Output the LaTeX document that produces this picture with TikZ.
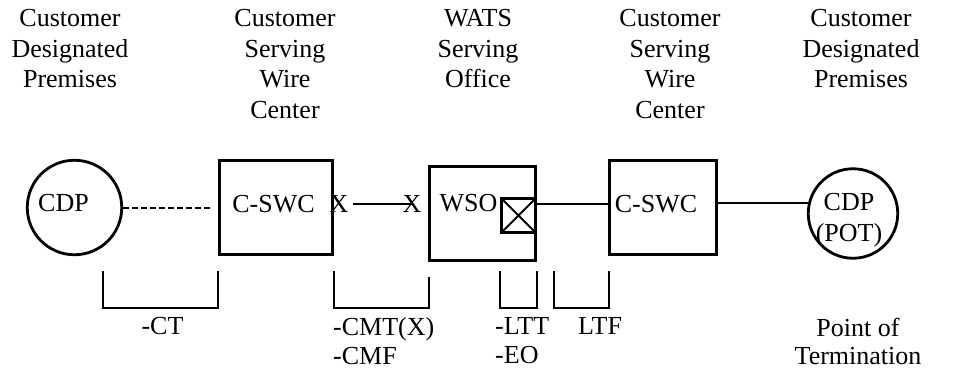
\documentclass[tikz,border=0pt]{standalone}
\usepackage{fontspec}
\setmainfont{Liberation Serif}
\begin{document}
\begin{tikzpicture}[x=1pt,y=-1pt,
    every node/.style={font=\fontsize{26}{30.5}\selectfont,inner sep=0pt},
    heading/.style={anchor=north,align=center},
    note/.style={font=\fontsize{26}{28.5}\selectfont},
    office/.style={draw,rectangle,line width=2.8pt,minimum width=#1,minimum height=94.5pt},
    premises/.style={draw,circle,line width=2.8pt,minimum size=#1},
    bracket/.style={line width=2.8pt},
    wire/.style={line width=2pt}]
  \useasboundingbox (0,0) rectangle (955,370);
  % headings
  \node[heading] (hdcdpl) at (70,9.5) {Customer\\Designated\\Premises};
  \node[heading] (hdswcl) at (285,9.5) {Customer\\Serving\\Wire\\Center};
  \node[heading] (hdwso) at (478,9.5) {WATS\\Serving\\Office};
  \node[heading] (hdswcr) at (670,9.5) {Customer\\Serving\\Wire\\Center};
  \node[heading] (hdcdpr) at (861,9.5) {Customer\\Designated\\Premises};
  % premises and offices
  \node[premises=94.5] (cdpl) at (74.5,207.5) {};
  \node (cdpltxt) at (63.5,203.5) {CDP};
  \node[office=113.5] (swcl) at (276,207.5) {};
  \node (swcltxt) at (273.5,204) {C-SWC};
  \node (xl) at (339,203.5) {X};
  \node (xr) at (412,203.5) {X};
  \node[office=106.5] (wso) at (482.5,213.5) {};
  \node (wsotxt) at (468.5,203.5) {WSO};
  \node[draw,line width=2.8pt,outer sep=0pt,minimum size=34.5pt] (xbox) at (518.5,215.5) {};
  \draw[wire] (xbox.north west) -- (xbox.south east) (xbox.south west) -- (xbox.north east);
  \node[office=107.5] (swcr) at (663,207.5) {};
  \node (swcrtxt) at (656,204) {C-SWC};
  \node[premises=89.5] (cdpr) at (853,213.5) {};
  \node[align=center] (cdprtxt) at (849,220) {CDP\\(POT)};
  % lines
  \draw[wire,dash pattern=on 6pt off 3pt,shorten >=6pt] (cdpl) -- (swcl);
  \draw[wire,shorten <=4pt] (xl) -- (xr.center);
  \draw[wire] (xbox.east |- swcrtxt) -- (swcr.west |- swcrtxt);
  \draw[wire] (swcr.east |- cdpr.167) -- (cdpr.167);
  % brackets
  \draw[bracket] (103,271) |- (218,308) -- (218,271);
  \draw[bracket] (334,271) |- (429,308) -- (429,277);
  \draw[bracket] (500,271) |- (537,308) -- (537,271);
  \draw[bracket] (554,271) |- (609,308) -- (609,271);
  \node[note,anchor=north] (ct) at (162.5,317.5) {-CT};
  \node[note,anchor=north west,align=left] (cmt) at (333,317.5) {-CMT(X)\\-CMF};
  \node[note,anchor=north west,align=left] (ltt) at (495,317.5) {-LTT\\-EO};
  \node[note,anchor=north west] (ltf) at (578,317.5) {LTF};
  \node[note,anchor=north,align=center] (pot) at (858,317.5) {Point of\\Termination};
\end{tikzpicture}
\end{document}
